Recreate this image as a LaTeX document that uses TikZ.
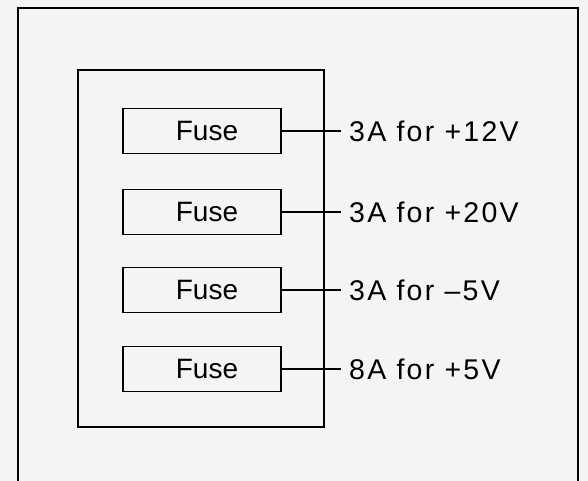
\documentclass[tikz,border=0pt]{standalone}
\usepackage{fontspec}
\setmainfont{Liberation Sans}
\usetikzlibrary{positioning}

\begin{document}
\begin{tikzpicture}[x=1pt,y=-1pt,
  font=\fontsize{28}{32}\selectfont,
  fz/.style={draw,line width=1.5pt,minimum width=158pt,minimum height=45pt,inner sep=0pt},
  lb/.style={anchor=west,inner sep=0pt,font=\fontsize{28.5}{32}\selectfont\addfontfeature{LetterSpace=8}},
  ln/.style={line width=1.5pt}]
  \fill[gray!9] (0,0) rectangle (588,481);
  \useasboundingbox (0,0) rectangle (588,481);
  % outer frame, open at the bottom
  \draw[ln] (18,481) -- (18,8) -- (578,8) -- (578,481);
  % fuse holder
  \draw[ln] (78,70) rectangle (324,427);
  \foreach \i/\y/\t in {1/131/3A for +12V,2/212/3A for +20V,3/290/3A for --5V,4/369/8A for +5V}{
    \node[fz] (f\i) at (202,\y) {\hspace{10pt}Fuse};
    \node[lb] (l\i) at (349,\y) {\t};
    \draw[ln] (f\i.east) -- ([xshift=-8pt]l\i.west);
  }
\end{tikzpicture}
\end{document}
